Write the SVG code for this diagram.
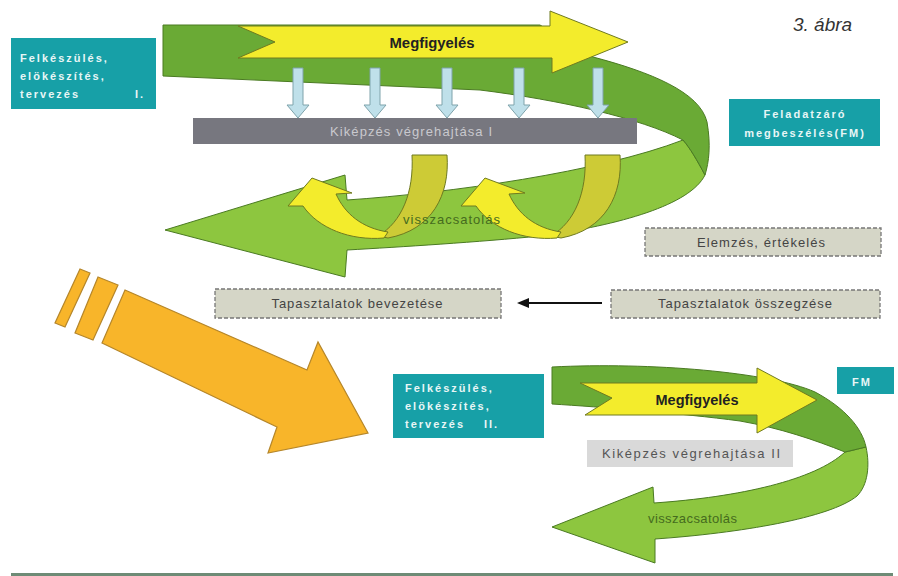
<svg xmlns="http://www.w3.org/2000/svg" width="898" height="576" viewBox="0 0 898 576">
  <style>
    .teal { fill: #17a0a7; }
    .tealtxt { font-family: "Liberation Sans", Arial, sans-serif; font-size: 11px; font-weight: bold; fill: #e8f6f6; letter-spacing: 2px; }
    .dash { fill: #d5d6c7; stroke: #777; stroke-width: 1.3; stroke-dasharray: 4 2; }
    .boxtxt { font-family: "Liberation Sans", Arial, sans-serif; font-size: 13px; fill: #444; }
    .gdark { fill: #6aaa35; stroke: #4a7a22; stroke-width: 1; }
    .glight { fill: #8dc63f; stroke: #4a7a22; stroke-width: 1; }
    .yel { fill: #f3ec2c; stroke: #6f7a20; stroke-width: 1; }
    .olive { fill: #cdcb36; stroke: #6f7a20; stroke-width: 1; }
    .blue { fill: #bfe0ea; stroke: #7fa3ab; stroke-width: 1; }
    .orange { fill: #f8b52a; stroke: #b5862a; stroke-width: 1.2; }
    .bold { font-family: "Liberation Sans", Arial, sans-serif; font-weight: bold; font-size: 14px; fill: #222; }
    .fb { font-family: "Liberation Sans", Arial, sans-serif; font-size: 13px; fill: #456b1e; }
  </style>
  <defs>
    <marker id="arrowhead" markerWidth="12" markerHeight="10" refX="2" refY="5" orient="auto" markerUnits="userSpaceOnUse">
      <path d="M0,0 L12,5 L0,10 Z" fill="#111"/>
    </marker>
    <path id="blueArrow" d="M-5,0 L5,0 L5,37 L11,37 L0,50 L-11,37 L-5,37 Z"/>
    <g id="curl">
      <path class="olive" d="M412,155 L447,155 C450,195 432,230 388,238 L378,236 C402,222 414,192 412,155 Z"/>
      <path class="yel" d="M384,238 C350,241 318,228 303,206 L288,206 L312,178 L352,193 L336,194 C345,214 362,228 388,232 Z"/>
    </g>
  </defs>

  <rect width="898" height="576" fill="#ffffff"/>

  <!-- cycle I: ribbon -->
  <g id="cycle1-ribbon">
    <path class="glight" d="M683,140 C690,148 697,160 705,175 C690,205 620,225 540,236 C480,242 400,247 347,250 L345,277 L165,230 L345,175 L347,200 C450,193 600,172 683,140 Z"/>
    <path class="gdark" d="M163,25 L540,25 L593,57 C650,72 700,92 707,122 C711,145 709,162 705,175 C697,160 690,148 683,140 C640,118 560,100 480,90 L163,76 Z"/>
  </g>

  <g id="observe1">
    <path class="yel" d="M238,26 L550,26 L550,11 L628,42 L552,73 L552,58 L238,58 L275,42 Z"/>
    <text class="bold" x="432" y="48" text-anchor="middle" textLength="85" lengthAdjust="spacingAndGlyphs">Megfigyelés</text>
  </g>

  <g id="observe-flow" class="blue">
    <use href="#blueArrow" x="298" y="68"/>
    <use href="#blueArrow" x="375" y="68"/>
    <use href="#blueArrow" x="447" y="68"/>
    <use href="#blueArrow" x="519" y="68"/>
    <use href="#blueArrow" x="598" y="68"/>
  </g>

  <g id="execution1">
    <rect x="193" y="118" width="444" height="26" fill="#77777f"/>
    <text x="411" y="136" text-anchor="middle" font-family="Liberation Sans, Arial, sans-serif" font-size="13" fill="#c9c9ce" textLength="162" lengthAdjust="spacing">Kiképzés végrehajtása I</text>
  </g>

  <g id="feedback1">
    <use href="#curl"/>
    <use href="#curl" x="173"/>
    <text class="fb" x="403" y="224" textLength="97" lengthAdjust="spacing">visszacsatolás</text>
  </g>

  <g id="prep1">
    <rect class="teal" x="11" y="38" width="145" height="71"/>
    <text class="tealtxt" x="20" y="62">Felkészülés,</text>
    <text class="tealtxt" x="20" y="80">elökészítés,</text>
    <text class="tealtxt" x="20" y="98">tervezés</text>
    <text class="tealtxt" x="135" y="98">I.</text>
  </g>

  <g id="fm1">
    <rect class="teal" x="729" y="99" width="151" height="47"/>
    <text class="tealtxt" x="805" y="118" text-anchor="middle">Feladatzáró</text>
    <text class="tealtxt" x="805" y="137" text-anchor="middle">megbeszélés(FM)</text>
  </g>

  <text id="caption" x="793" y="31" font-family="Liberation Sans, Arial, sans-serif" font-style="italic" font-size="19" fill="#333">3. ábra</text>

  <g id="analysis">
    <rect class="dash" x="645" y="228" width="236" height="28"/>
    <text class="boxtxt" x="761" y="247" text-anchor="middle" textLength="128" lengthAdjust="spacing">Elemzés, értékelés</text>
  </g>

  <g id="apply">
    <rect class="dash" x="215" y="289" width="286" height="29"/>
    <text class="boxtxt" x="357" y="308" text-anchor="middle" textLength="171" lengthAdjust="spacing">Tapasztalatok bevezetése</text>
  </g>

  <g id="summary">
    <rect class="dash" x="611" y="290" width="269" height="28"/>
    <text class="boxtxt" x="745" y="308" text-anchor="middle" textLength="174" lengthAdjust="spacing">Tapasztalatok összegzése</text>
  </g>

  <g id="connectors">
    <line x1="602" y1="303" x2="527" y2="303" stroke="#111" stroke-width="2" marker-end="url(#arrowhead)"/>
  </g>

  <g id="transition" class="orange">
    <path d="M80,269 L90,273 L65,327 L55,323 Z"/>
    <path d="M98,277 L118,285 L93,340 L75,333 Z"/>
    <path d="M125,290 L307,370 L318,342 L368,433 L268,453 L277,427 L102,343 Z"/>
  </g>

  <g id="prep2">
    <rect class="teal" x="393" y="374" width="151" height="64"/>
    <text class="tealtxt" x="405" y="392">Felkészülés,</text>
    <text class="tealtxt" x="405" y="410">elökészítés,</text>
    <text class="tealtxt" x="405" y="428">tervezés</text>
    <text class="tealtxt" x="484" y="428">II.</text>
  </g>

  <g id="fm2">
    <rect class="teal" x="837" y="367" width="57" height="27"/>
    <text class="tealtxt" x="862" y="386" text-anchor="middle" letter-spacing="1">FM</text>
  </g>

  <!-- cycle II: ribbon -->
  <g id="cycle2-ribbon">
    <path class="glight" d="M845,452 C855,450 861,448 866,447 C870,465 868,485 857,496 C830,518 740,533 655,539 L655,563 L552,527 L653,487 L654,503 C740,497 815,480 845,452 Z"/>
    <path class="gdark" d="M552,367 C650,362 770,372 815,392 C845,408 862,428 866,447 L845,452 C815,440 780,428 740,421 C680,413 600,407 552,404 Z"/>
  </g>

  <g id="observe2">
    <path class="yel" d="M580,383 L757,383 L757,368 L817,400 L757,433 L757,415 L585,415 L612,398 Z"/>
    <text class="bold" x="697" y="405" text-anchor="middle" textLength="83" lengthAdjust="spacingAndGlyphs">Megfigyelés</text>
  </g>

  <g id="execution2">
    <rect x="587" y="440" width="206" height="27" fill="#d9d9d9"/>
    <text x="691" y="458" text-anchor="middle" font-family="Liberation Sans, Arial, sans-serif" font-size="13" fill="#555" textLength="178" lengthAdjust="spacing">Kiképzés végrehajtása II</text>
  </g>

  <text id="feedback2" class="fb" x="648" y="523" textLength="89" lengthAdjust="spacing">visszacsatolás</text>

  <rect id="footer-rule" x="11" y="573" width="882" height="3" fill="#6e8b76"/>
</svg>
